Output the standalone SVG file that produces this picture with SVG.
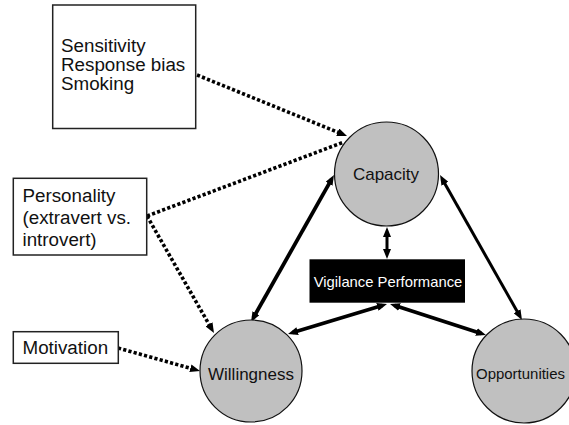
<svg xmlns="http://www.w3.org/2000/svg" width="569" height="425" viewBox="0 0 569 425">
<style>
.box{fill:#fff;stroke:#222;stroke-width:1.5}
.circ{fill:#c0c0c0;stroke:#111;stroke-width:1.2}
.t{font-family:"Liberation Sans",Arial,sans-serif;fill:#111}
.bt{font-size:18.8px}
.ct{font-size:17px}
.dot{fill:none;stroke:#000;stroke-width:3.6;stroke-dasharray:3.2 2.2}
.sol{fill:none;stroke:#000;stroke-width:3.8}
.sol2{fill:none;stroke:#000;stroke-width:3}
</style>
<defs>
<marker id="ah" viewBox="0 0 10 8" refX="5" refY="4" markerWidth="10" markerHeight="8" markerUnits="userSpaceOnUse" orient="auto-start-reverse">
<path d="M0,0 L10,4 L0,8 z" fill="#000"/>
</marker>
</defs>
<g id="connectors">
<line class="dot" x1="197" y1="75" x2="342.4" y2="134.1" marker-end="url(#ah)"/>
<line class="dot" x1="147" y1="216" x2="344" y2="142"/>
<line class="dot" x1="147" y1="216" x2="211.5" y2="328.7" marker-end="url(#ah)"/>
<line class="dot" x1="118" y1="348" x2="195.2" y2="369.6" marker-end="url(#ah)"/>
<line class="sol" x1="331.5" y1="179.4" x2="253.5" y2="317.6" marker-start="url(#ah)" marker-end="url(#ah)"/>
<line class="sol2" x1="442.5" y1="179.4" x2="519.5" y2="315.6" marker-start="url(#ah)" marker-end="url(#ah)"/>
<line class="sol2" x1="387" y1="232" x2="387" y2="254" marker-start="url(#ah)" marker-end="url(#ah)"/>
<line class="sol" x1="382.2" y1="305.5" x2="292.8" y2="332.5" marker-start="url(#ah)" marker-end="url(#ah)"/>
<line class="sol" x1="394.8" y1="305.5" x2="481.2" y2="333.5" marker-start="url(#ah)" marker-end="url(#ah)"/>
</g>
<g id="factors">
<rect class="box" x="52.7" y="5" width="143" height="123.5"/>
<text class="t bt" x="61" y="52">Sensitivity</text>
<text class="t bt" x="61" y="71">Response bias</text>
<text class="t bt" x="61" y="90">Smoking</text>
</g>
<g id="personality">
<rect class="box" x="13.3" y="178.3" width="133.4" height="76.7"/>
<text class="t bt" x="22.5" y="202">Personality</text>
<text class="t bt" x="22.5" y="224">(extravert vs.</text>
<text class="t bt" x="22.5" y="246">introvert)</text>
</g>
<g id="motivation">
<rect class="box" x="13.3" y="331.7" width="105" height="31.6"/>
<text class="t bt" x="22.5" y="354">Motivation</text>
</g>
<g id="capacity">
<circle class="circ" cx="386.5" cy="174" r="52"/>
<text class="t ct" x="386" y="180" text-anchor="middle">Capacity</text>
</g>
<g id="willingness">
<circle class="circ" cx="251" cy="371" r="51"/>
<text class="t ct" x="251" y="380" text-anchor="middle">Willingness</text>
</g>
<g id="opportunities">
<circle class="circ" cx="524" cy="371" r="52"/>
<text class="t" x="476" y="379" font-size="15.5" textLength="89" lengthAdjust="spacingAndGlyphs">Opportunities</text>
</g>
<g id="vigilance">
<rect x="309.5" y="259.3" width="155.5" height="43.4" fill="#000"/>
<text class="t" x="388" y="287.3" text-anchor="middle" font-size="14.8" style="fill:#fff">Vigilance Performance</text>
</g>
</svg>
